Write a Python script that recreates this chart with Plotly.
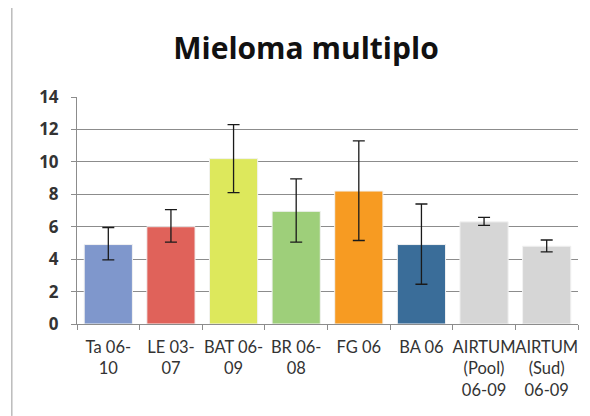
import plotly.graph_objects as go

categories = ["Ta 06-<br>10", "LE 03-<br>07", "BAT 06-<br>09", "BR 06-<br>08", "FG 06",
              "BA 06", "AIRTUM<br>(Pool)<br>06-09", "AIRTUM<br>(Sud)<br>06-09"]
values = [4.9, 6.0, 10.2, 6.95, 8.2, 4.9, 6.3, 4.8]
err_plus = [1.05, 1.05, 2.1, 2.0, 3.1, 2.5, 0.28, 0.38]
err_minus = [0.95, 0.95, 2.1, 1.9, 3.05, 2.45, 0.22, 0.35]
colors = ["#7F97CC", "#E0625A", "#DDE85C", "#9ECF7A", "#F79B22", "#3A6D99", "#D6D6D6", "#D6D6D6"]
y_ticks = [0, 2, 4, 6, 8, 10, 12, 14]

fig = go.Figure()
fig.add_trace(go.Bar(
    x=categories, y=values,
    marker=dict(color=colors, line=dict(color="#F2F2F2", width=1)),
    width=0.77,
    error_y=dict(type="data", symmetric=False, array=err_plus, arrayminus=err_minus,
                 color="#1a1a1a", thickness=1.3, width=6),
))

fig.update_layout(
    width=582, height=408,
    margin=dict(l=69, r=12, t=89, b=92, autoexpand=False),
    paper_bgcolor="white", plot_bgcolor="white",
    showlegend=False,
    font=dict(family="Lato, Open Sans, sans-serif", color="#404040"),
    title=dict(text="<b>Mieloma multiplo</b>", x=0.512, xanchor="center", y=0.9, yanchor="middle",
               font=dict(size=30, color="#111111", family="Open Sans, Lato, sans-serif")),
)
fig.update_yaxes(
    range=[0, 14], tickvals=y_ticks, showgrid=True, gridcolor="#8C8C8C", gridwidth=1,
    showline=True, linecolor="#8C8C8C", linewidth=1, ticks="outside", ticklen=5, tickcolor="#8C8C8C",
    ticklabelstandoff=9,
    tickfont=dict(size=17, color="#333333", family="Open Sans, sans-serif", weight="bold"),
    zeroline=False, automargin=False,
)
fig.update_xaxes(
    showline=True, linecolor="#8C8C8C", linewidth=1, ticks="outside", ticklen=5,
    tickcolor="#8C8C8C", tickson="boundaries", ticklabelstandoff=8,
    tickfont=dict(size=16.5, color="#333333", family="Lato, sans-serif"),
    tickangle=0, automargin=False,
)
fig.add_shape(type="line", xref="paper", yref="paper", x0=-0.13, x1=-0.13, y0=-0.405, y1=1.392,
              line=dict(color="#9A9A9A", width=1))

fig.write_html("out.html")
